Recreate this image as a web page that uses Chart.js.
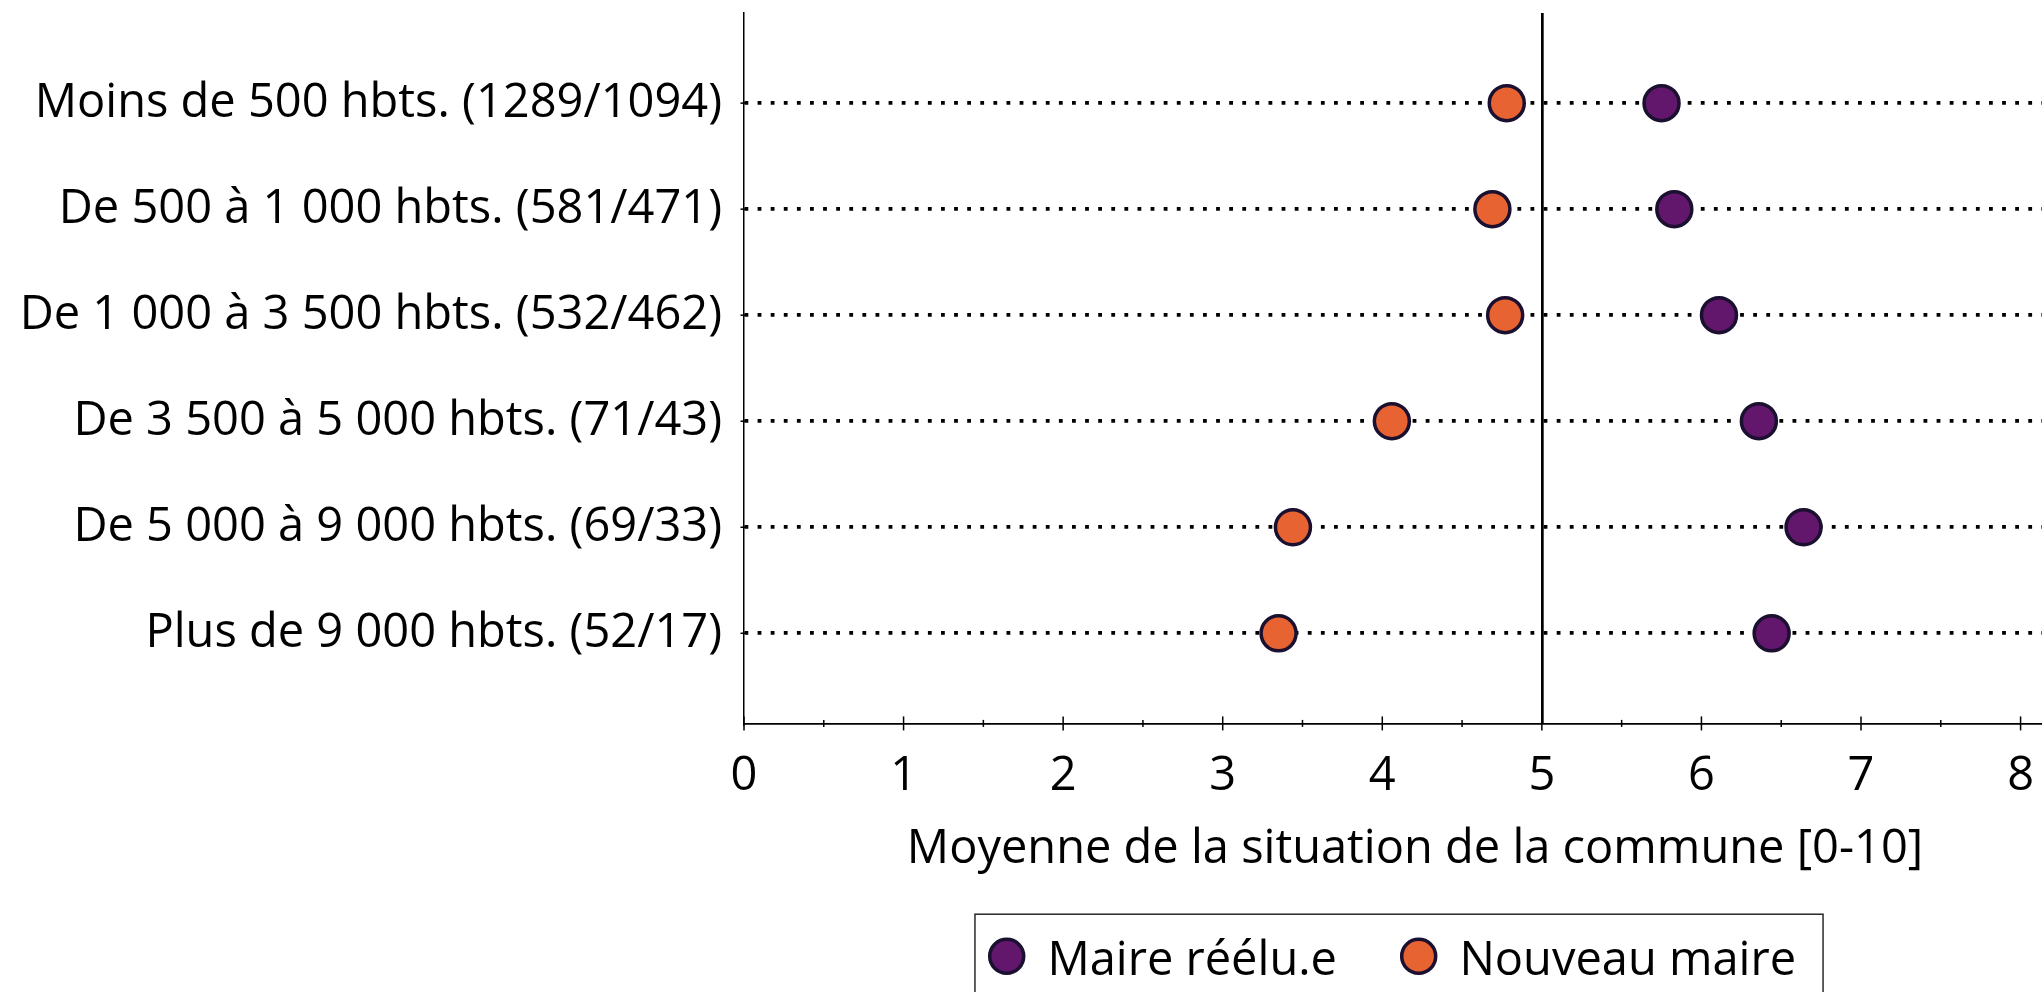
<!DOCTYPE html>
<html lang="fr">
<head>
<meta charset="utf-8">
<title>Moyenne de la situation de la commune</title>
<script src="https://cdn.jsdelivr.net/npm/chart.js@4.4.1/dist/chart.umd.min.js"></script>
<style>
  html, body { margin: 0; padding: 0; background: #ffffff; overflow: hidden; }
  canvas { display: block; }
</style>
</head>
<body>
<canvas id="chart" width="2086" height="992" style="width:2086px;height:992px"></canvas>
<script>
// Strates de taille de commune (effectifs maire réélu.e / nouveau maire)
const categories = [
  'Moins de 500 hbts. (1289/1094)',
  'De 500 à 1 000 hbts. (581/471)',
  'De 1 000 à 3 500 hbts. (532/462)',
  'De 3 500 à 5 000 hbts. (71/43)',
  'De 5 000 à 9 000 hbts. (69/33)',
  'Plus de 9 000 hbts. (52/17)'
];
const seriesLabels = ['Maire réélu.e', 'Nouveau maire'];
// Moyennes sur l'échelle 0-10
const maireReelu   = [5.75, 5.83, 6.11, 6.36, 6.64, 6.44];
const nouveauMaire = [4.78, 4.69, 4.77, 4.06, 3.44, 3.35];
const xTickValues  = [0, 1, 2, 3, 4, 5, 6, 7, 8];
const referenceValue = 5;
const xTitle = 'Moyenne de la situation de la commune [0-10]';

const PURPLE = '#62166c';
const ORANGE = '#e76331';
const EDGE   = '#1b1030';
const FONT   = '"Open Sans", "Noto Sans", sans-serif';
const TEXT_SIZE = 47;

Chart.defaults.font.family = FONT;
Chart.defaults.color = '#000000';

// Graduations qui traversent les axes (majeures aux entiers, mineures aux demis)
const crossTicks = {
  id: 'crossTicks',
  afterDraw(chart) {
    const { ctx, scales: { x, y } } = chart;
    const line = (x1, y1, x2, y2) => { ctx.beginPath(); ctx.moveTo(x1, y1); ctx.lineTo(x2, y2); ctx.stroke(); };
    ctx.save();
    ctx.strokeStyle = '#000000';
    ctx.lineWidth = 1.5;
    for (let v = 0; v <= x.max + 1e-9; v += 0.5) {
      const px = x.getPixelForValue(v);
      const half = Number.isInteger(v) ? 7 : 3.5;
      line(px, x.top - half, px, x.top + half);
    }
    y.ticks.forEach(t => {
      const py = y.getPixelForValue(t.value);
      line(x.left - 3.5, py, x.left + 3.5, py);
    });
    ctx.restore();
  }
};

// Légende encadrée sous le titre de l'axe
const boxedLegend = {
  id: 'boxedLegend',
  afterDraw(chart) {
    const { ctx, chartArea, scales: { x } } = chart;
    ctx.save();
    ctx.font = TEXT_SIZE + 'px ' + FONT;
    const r = 17, edgeW = 3.5;
    const padL = 13, padR = 27, textGap = 22, itemGap = 63;
    const items = chart.data.datasets.map(ds => ({
      label: ds.label, fill: ds.backgroundColor, edge: ds.borderColor,
      w: ctx.measureText(ds.label).width
    }));
    const content = items.reduce((s, it) => s + 2 * (r + edgeW / 2) + textGap + it.w, 0) + itemGap * (items.length - 1);
    const boxW = padL + content + padR;
    const center = (chartArea.left + chartArea.right) / 2 - 16;
    const left = center - boxW / 2;
    const top = x.bottom + 36;
    ctx.strokeStyle = '#1a1a1a';
    ctx.lineWidth = 1.4;
    ctx.strokeRect(left, top, boxW, chart.height - top + 10);

    let cx = left + padL;
    const cy = top + 42;
    const baseY = top + 60.5;
    items.forEach(it => {
      const outer = r + edgeW / 2;
      ctx.beginPath();
      ctx.arc(cx + outer, cy, r, 0, Math.PI * 2);
      ctx.fillStyle = it.fill;
      ctx.fill();
      ctx.lineWidth = edgeW;
      ctx.strokeStyle = it.edge;
      ctx.stroke();
      cx += 2 * outer + textGap;
      ctx.fillStyle = '#000000';
      ctx.textBaseline = 'alphabetic';
      ctx.textAlign = 'left';
      ctx.fillText(it.label, cx, baseY);
      cx += it.w + itemGap;
    });
    ctx.restore();
  }
};

const pointStyle = (fill) => ({
  backgroundColor: fill,
  borderColor: EDGE,
  borderWidth: 3.5,
  pointRadius: 17.5,
  pointHoverRadius: 17.5,
  pointBorderWidth: 3.5,
  showLine: false
});

new Chart(document.getElementById('chart'), {
  type: 'scatter',
  data: {
    datasets: [
      Object.assign({ label: seriesLabels[0], data: maireReelu.map((v, i) => ({ x: v, y: i })) }, pointStyle(PURPLE)),
      Object.assign({ label: seriesLabels[1], data: nouveauMaire.map((v, i) => ({ x: v, y: i })) }, pointStyle(ORANGE))
    ]
  },
  options: {
    responsive: false,
    animation: false,
    devicePixelRatio: 1,
    layout: { autoPadding: false, padding: { top: 13, right: 0, bottom: 113.8, left: 0 } },
    plugins: {
      legend: { display: false },
      tooltip: { enabled: false }
    },
    scales: {
      x: {
        type: 'linear',
        min: 0,
        max: 8.41,
        afterBuildTicks: s => { s.ticks = xTickValues.map(v => ({ value: v })); },
        afterFit: s => { s.paddingLeft = 0; s.paddingRight = 0; },
        ticks: {
          padding: 25,
          color: '#000000',
          font: { size: TEXT_SIZE },
          autoSkip: false,
          maxRotation: 0,
          callback: v => String(v)
        },
        grid: {
          drawTicks: false,
          color: c => (c.tick && c.tick.value === referenceValue) ? '#000000' : 'rgba(0,0,0,0)',
          lineWidth: 2.7
        },
        border: { display: true, color: '#000000', width: 1.7 },
        title: {
          display: true,
          text: xTitle,
          color: '#000000',
          font: { size: TEXT_SIZE },
          padding: { top: -8, bottom: 0 }
        }
      },
      y: {
        type: 'linear',
        reverse: true,
        min: -0.85,
        max: 5.85,
        afterBuildTicks: s => { s.ticks = categories.map((_, i) => ({ value: i })); },
        afterFit: s => { s.width = 744; s.paddingTop = 0; s.paddingBottom = 0; },
        ticks: {
          padding: 22,
          color: '#000000',
          font: { size: TEXT_SIZE },
          autoSkip: false,
          callback: v => categories[v]
        },
        grid: {
          drawTicks: false,
          color: '#000000',
          lineWidth: 3.8
        },
        border: { display: true, color: '#000000', width: 1.5, dash: [3.8, 9.3] }
      }
    }
  },
  plugins: [crossTicks, boxedLegend]
});
</script>
</body>
</html>
